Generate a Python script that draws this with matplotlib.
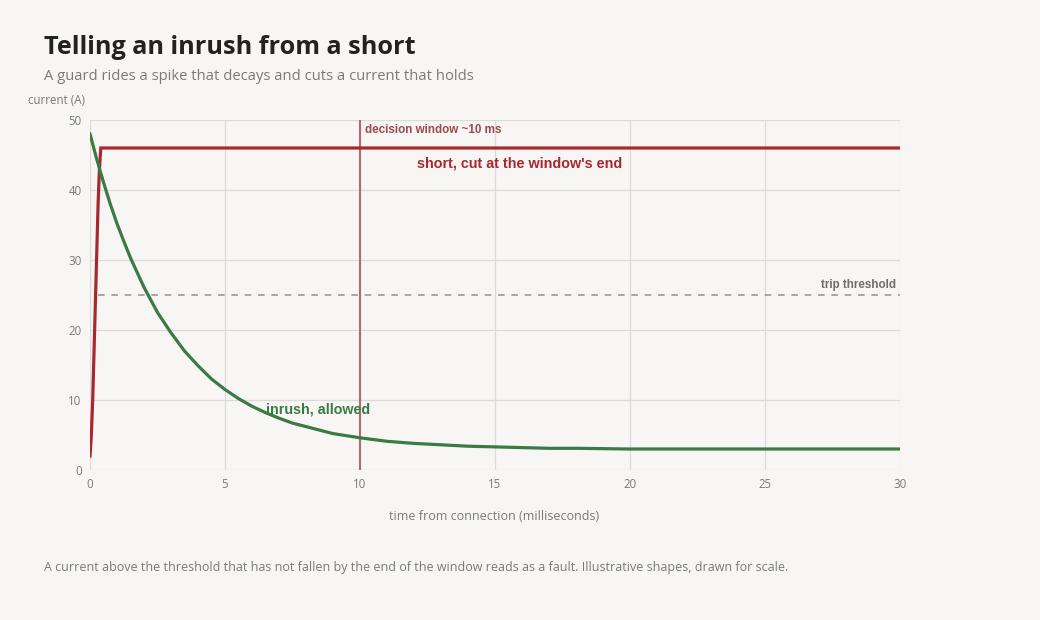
import matplotlib.pyplot as plt

# inrush current (ms, A)
inrush_t = [0, 0.25, 0.5, 0.75, 1, 1.25, 1.5, 1.75, 2, 2.5, 3, 3.5, 4, 4.5, 5, 5.5, 6, 6.5, 7,
            7.5, 8, 8.5, 9, 9.5, 10, 11, 12, 13, 14, 15, 16, 17, 18, 20, 25, 30]
inrush_a = [48, 44.4, 41.1, 38.0, 35.2, 32.7, 30.3, 28.2, 26.1, 22.5, 19.6, 17.0, 14.9, 13.0, 11.5,
            10.2, 9.1, 8.2, 7.4, 6.7, 6.2, 5.7, 5.2, 4.9, 4.6, 4.1, 3.8, 3.6, 3.4, 3.3, 3.2, 3.1,
            3.1, 3.0, 3.0, 3.0]

# short circuit current (ms, A)
short_t = [0, 0.05, 0.1, 0.15, 0.2, 0.25, 0.3, 0.35, 0.4, 30]
short_a = [2, 5, 10, 17, 24, 31, 38, 43, 46, 46]

threshold = 25
window = 10

bg = '#f7f6f4'
red = '#a8292d'
green = '#3b7a43'
grey = '#7a7a7a'

plt.rcParams['font.family'] = ['Open Sans', 'DejaVu Sans']
fig = plt.figure(figsize=(10.4, 6.2), dpi=100, facecolor=bg)
ax = fig.add_axes([90/1040, 1-470/620, 810/1040, 350/620], facecolor=bg)

ax.set_xlim(0, 30)
ax.set_ylim(0, 50)
ax.set_xticks([0, 5, 10, 15, 20, 25, 30])
ax.set_yticks([0, 10, 20, 30, 40, 50])
ax.grid(True, color='#dcdbd9', linewidth=0.9)
ax.set_axisbelow(True)
for s in ax.spines.values():
    s.set_visible(False)
ax.tick_params(length=0, labelsize=8.3, labelcolor=grey, pad=6)

ax.axhline(threshold, xmin=0.3/30, color='#999999', linewidth=1.2, dashes=(4, 4))
ax.axvline(window, color='#b5696d', linewidth=1.5)

ax.plot(short_t, short_a, color=red, linewidth=2.3, solid_joinstyle='miter')
ax.plot(inrush_t, inrush_a, color=green, linewidth=2.3)

ax.text(10.2, 48.6, 'decision window ~10 ms', color='#a0494d', fontsize=8.4, fontweight='bold',
        family='Liberation Sans', va='center')
ax.text(12.1, 43.8, "short, cut at the window's end", color=red, fontsize=10.4, fontweight='bold',
        family='Liberation Sans', va='center')
ax.text(29.85, 26.4, 'trip threshold', color='#6e6e6e', fontsize=8.4, fontweight='bold',
        family='Liberation Sans', ha='right', va='center')
ax.text(6.5, 8.7, 'inrush, allowed', color=green, fontsize=10.3, fontweight='bold',
        family='Liberation Sans', va='center')

fig.text(44/1040, 1-47/620, 'Telling an inrush from a short', fontsize=18.2, fontweight='bold',
         color='#222222', va='center')
fig.text(44/1040, 1-76/620, 'A guard rides a spike that decays and cuts a current that holds',
         fontsize=10.6, color=grey, va='center')
fig.text(28/1040, 1-100/620, 'current (A)', fontsize=8.3, color=grey, va='center')
fig.text(494/1040, 1-517/620, 'time from connection (milliseconds)', fontsize=9, color=grey,
         ha='center', va='center')
fig.text(44/1040, 1-568/620,
         'A current above the threshold that has not fallen by the end of the window reads as a fault. '
         'Illustrative shapes, drawn for scale.', fontsize=9, color=grey, va='center')

fig.savefig('out.png', dpi=100, facecolor=bg)
